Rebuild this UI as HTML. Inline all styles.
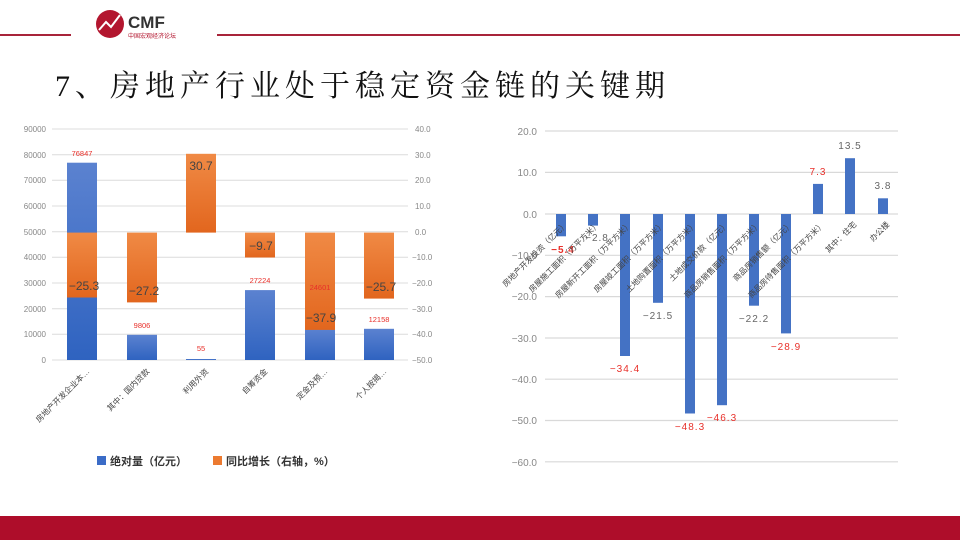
<!DOCTYPE html>
<html><head><meta charset="utf-8"><style>
body{margin:0;width:960px;height:540px;background:#fff;overflow:hidden;font-family:"Liberation Sans","Noto Sans CJK SC",sans-serif}
</style></head><body>
<svg width="960" height="540" viewBox="0 0 960 540" xmlns="http://www.w3.org/2000/svg" font-family="Liberation Sans, Noto Sans CJK SC, sans-serif">
<defs>
<linearGradient id="gb" x1="0" y1="0" x2="0" y2="1"><stop offset="0" stop-color="#5b82d0"/><stop offset="1" stop-color="#2f63c0"/></linearGradient>
<linearGradient id="go" x1="0" y1="0" x2="0" y2="1"><stop offset="0" stop-color="#f08a45"/><stop offset="1" stop-color="#e2661e"/></linearGradient>
</defs>
<!-- header -->
<rect x="0" y="34" width="71" height="2" fill="#a8243a"/>
<rect x="217" y="34" width="743" height="2" fill="#a8243a"/>
<circle cx="110" cy="24" r="14" fill="#b3162f"/>
<polyline points="99,30 106,22 111,27 120,15" fill="none" stroke="#fff" stroke-width="2"/>
<text x="128" y="28" font-size="17" font-weight="bold" fill="#333">CMF</text>
<text x="128" y="38" font-size="6" fill="#b3162f">中国宏观经济论坛</text>
<text x="55" y="96" font-size="30" fill="#111" font-family="Liberation Serif, Noto Serif CJK SC, serif" letter-spacing="5">7、房地产行业处于稳定资金链的关键期</text>
<rect x="0" y="516" width="960" height="24" fill="#ae0d2a"/>

<!-- left chart grid -->
<g stroke="#dcdcdc" stroke-width="1">
<line x1="52" y1="129" x2="408" y2="129"/><line x1="52" y1="154.7" x2="408" y2="154.7"/><line x1="52" y1="180.3" x2="408" y2="180.3"/><line x1="52" y1="206" x2="408" y2="206"/><line x1="52" y1="231.7" x2="408" y2="231.7"/><line x1="52" y1="257.3" x2="408" y2="257.3"/><line x1="52" y1="283" x2="408" y2="283"/><line x1="52" y1="308.7" x2="408" y2="308.7"/><line x1="52" y1="334.3" x2="408" y2="334.3"/><line x1="52" y1="360" x2="408" y2="360"/>
</g>
<g font-size="8" fill="#888" text-anchor="end">
<text x="46" y="132">90000</text><text x="46" y="158">80000</text><text x="46" y="183">70000</text><text x="46" y="209">60000</text><text x="46" y="235">50000</text><text x="46" y="260">40000</text><text x="46" y="286">30000</text><text x="46" y="312">20000</text><text x="46" y="337">10000</text><text x="46" y="363">0</text>
</g>
<g font-size="8" fill="#888">
<text x="415" y="132">40.0</text><text x="415" y="158">30.0</text><text x="415" y="183">20.0</text><text x="415" y="209">10.0</text><text x="415" y="235">0.0</text><text x="412" y="260">−10.0</text><text x="412" y="286">−20.0</text><text x="412" y="312">−30.0</text><text x="412" y="337">−40.0</text><text x="412" y="363">−50.0</text>
</g>
<g fill="url(#gb)">
<rect x="67" y="162.7" width="30" height="197.3"/>
<rect x="127" y="334.8" width="30" height="25.2"/>
<rect x="186" y="359" width="30" height="1"/>
<rect x="245" y="290.1" width="30" height="69.9"/>
<rect x="305" y="329" width="30" height="31"/>
<rect x="364" y="328.8" width="30" height="31.2"/>
</g>
<g fill="url(#go)">
<rect x="67" y="232.6" width="30" height="64.9"/>
<rect x="127" y="232.6" width="30" height="69.8"/>
<rect x="186" y="153.8" width="30" height="78.8"/>
<rect x="245" y="232.6" width="30" height="24.9"/>
<rect x="305" y="232.6" width="30" height="97.3"/>
<rect x="364" y="232.6" width="30" height="66"/>
</g>
<g font-size="7.5" fill="#e8302a" text-anchor="middle">
<text x="82" y="156">76847</text><text x="142" y="328">9806</text><text x="201" y="351">55</text><text x="260" y="283">27224</text><text x="320" y="290">24601</text><text x="379" y="322">12158</text>
</g>
<g font-size="12" fill="#444" text-anchor="middle">
<text x="84" y="290">−25.3</text><text x="144" y="295">−27.2</text><text x="201" y="170">30.7</text><text x="261" y="250">−9.7</text><text x="321" y="322">−37.9</text><text x="381" y="291">−25.7</text>
</g>
<g font-size="8" fill="#444" text-anchor="end">
<text transform="translate(90,372) rotate(-45)">房地产开发企业本…</text>
<text transform="translate(150,372) rotate(-45)">其中：国内贷款</text>
<text transform="translate(209,372) rotate(-45)">利用外资</text>
<text transform="translate(268,372) rotate(-45)">自筹资金</text>
<text transform="translate(328,372) rotate(-45)">定金及预…</text>
<text transform="translate(387,372) rotate(-45)">个人按揭…</text>
</g>
<rect x="97" y="456" width="9" height="9" fill="#3b6cc7"/>
<text x="110" y="465" font-size="11" font-weight="bold" fill="#333">绝对量（亿元）</text>
<rect x="213" y="456" width="9" height="9" fill="#ec7a30"/>
<text x="226" y="465" font-size="11" font-weight="bold" fill="#333">同比增长（右轴，%）</text>

<!-- right chart -->
<g stroke="#d9d9d9" stroke-width="1.2">
<line x1="545" y1="131" x2="898" y2="131"/><line x1="545" y1="172.4" x2="898" y2="172.4"/><line x1="545" y1="214" x2="898" y2="214"/><line x1="545" y1="255.3" x2="898" y2="255.3"/><line x1="545" y1="296.6" x2="898" y2="296.6"/><line x1="545" y1="338" x2="898" y2="338"/><line x1="545" y1="379.2" x2="898" y2="379.2"/><line x1="545" y1="420.5" x2="898" y2="420.5"/><line x1="545" y1="461.8" x2="898" y2="461.8"/>
</g>
<g font-size="10" fill="#888" text-anchor="end">
<text x="537" y="135">20.0</text><text x="537" y="176">10.0</text><text x="537" y="218">0.0</text><text x="537" y="259">−10.0</text><text x="537" y="300">−20.0</text><text x="537" y="342">−30.0</text><text x="537" y="383">−40.0</text><text x="537" y="424">−50.0</text><text x="537" y="466">−60.0</text>
</g>
<g fill="#4472c4">
<rect x="556" y="214" width="10" height="22.3"/>
<rect x="588" y="214" width="10" height="11.6"/>
<rect x="620" y="214" width="10" height="142"/>
<rect x="653" y="214" width="10" height="88.8"/>
<rect x="685" y="214" width="10" height="199.5"/>
<rect x="717" y="214" width="10" height="191.2"/>
<rect x="749" y="214" width="10" height="91.7"/>
<rect x="781" y="214" width="10" height="119.4"/>
<rect x="813" y="183.9" width="10" height="30.1"/>
<rect x="845" y="158.2" width="10" height="55.8"/>
<rect x="878" y="198.3" width="10" height="15.7"/>
</g>
<g font-size="10" text-anchor="middle" letter-spacing="1">
<text x="563" y="253" fill="#e8302a" font-weight="bold">−5.4</text>
<text x="597" y="241" fill="#666">−2.8</text>
<text x="625" y="372" fill="#e8302a">−34.4</text>
<text x="658" y="319" fill="#666">−21.5</text>
<text x="690" y="430" fill="#e8302a">−48.3</text>
<text x="722" y="421" fill="#e8302a">−46.3</text>
<text x="754" y="322" fill="#666">−22.2</text>
<text x="786" y="350" fill="#e8302a">−28.9</text>
<text x="818" y="175" fill="#e8302a">7.3</text>
<text x="850" y="149" fill="#666">13.5</text>
<text x="883" y="189" fill="#666">3.8</text>
</g>
<g font-size="8" fill="#444" text-anchor="end">
<text transform="translate(568,225) rotate(-45)">房地产开发投资（亿元）</text>
<text transform="translate(600,225) rotate(-45)">房屋施工面积（万平方米）</text>
<text transform="translate(632,225) rotate(-45)">房屋新开工面积（万平方米）</text>
<text transform="translate(665,225) rotate(-45)">房屋竣工面积（万平方米）</text>
<text transform="translate(697,225) rotate(-45)">土地购置面积（万平方米）</text>
<text transform="translate(729,225) rotate(-45)">土地成交价款（亿元）</text>
<text transform="translate(761,225) rotate(-45)">商品房销售面积（万平方米）</text>
<text transform="translate(793,225) rotate(-45)">商品房销售额（亿元）</text>
<text transform="translate(825,225) rotate(-45)">商品房待售面积（万平方米）</text>
<text transform="translate(857,225) rotate(-45)">其中：住宅</text>
<text transform="translate(890,225) rotate(-45)">办公楼</text>
</g>
</svg>
</body></html>
